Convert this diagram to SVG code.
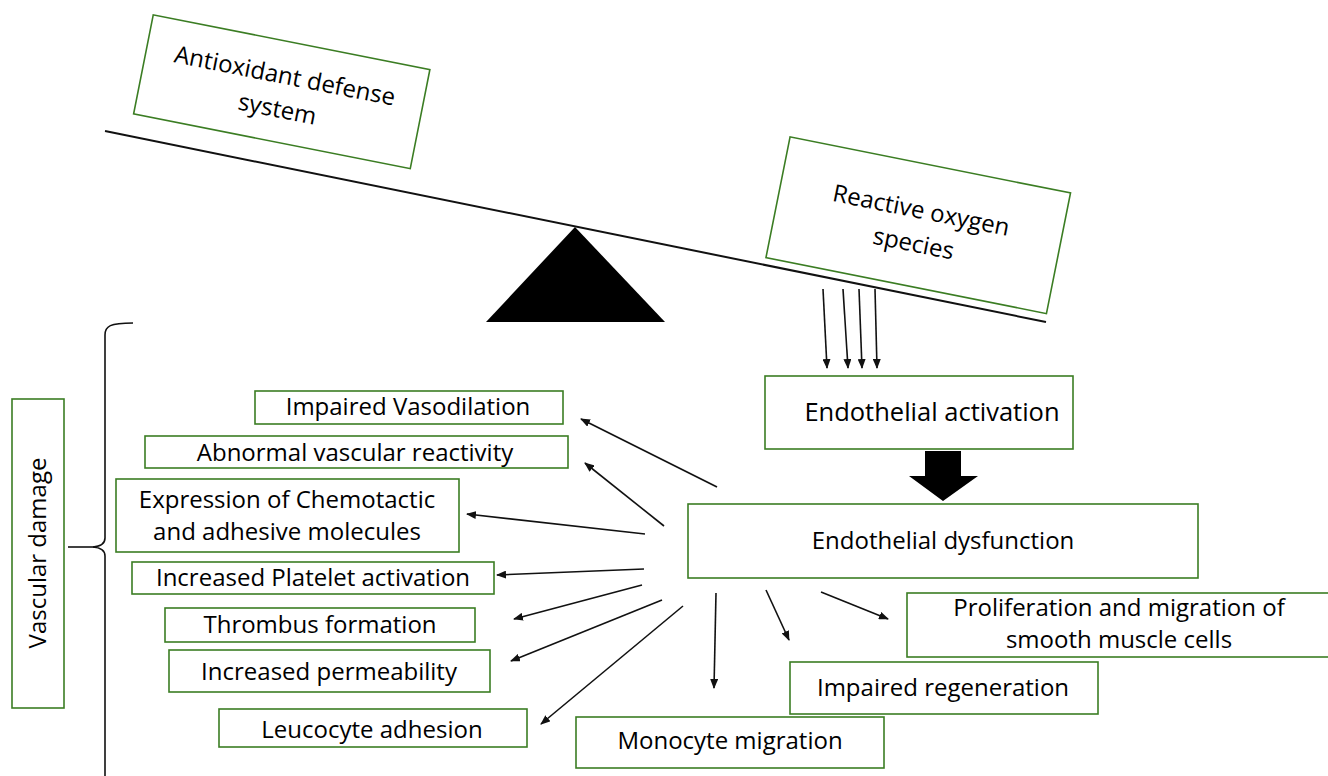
<svg xmlns="http://www.w3.org/2000/svg" width="1328" height="776" viewBox="0 0 1328 776">
<defs>
<style>
.box{fill:#fff;stroke:#3b7d23;stroke-width:1.6}
.t{font-family:"Open Sans","Liberation Sans",sans-serif;font-size:24px;fill:#000;text-anchor:middle}
.c{stroke:#111;stroke-width:1.6;fill:none}
.a{stroke:#111;stroke-width:1.6;fill:none;marker-end:url(#ah)}
</style>
<marker id="ah" markerUnits="userSpaceOnUse" markerWidth="10" markerHeight="8" refX="9" refY="4" orient="auto">
<path d="M0,0 L10,4 L0,8 Z" fill="#111"/>
</marker>
</defs>
<rect width="1328" height="776" fill="#fff"/>

<g id="balance">
<line x1="105" y1="131" x2="1046" y2="322" stroke="#111" stroke-width="2"/>
<polygon points="575,227 486,322 665,322" fill="#000"/>
</g>

<g id="antioxidant" transform="translate(281.75,91.75) rotate(11.2)">
<rect class="box" x="-141" y="-50.5" width="282" height="101"/>
<text class="t" x="0" y="-8">Antioxidant defense</text>
<text class="t" x="-1" y="26">system</text>
</g>

<g id="ros" transform="translate(918.25,225.25) rotate(11.3)">
<rect class="box" x="-143" y="-61.5" width="286" height="123"/>
<text class="t" x="0" y="-7">Reactive oxygen</text>
<text class="t" x="-1" y="27">species</text>
</g>

<g id="endothelial-activation">
<rect class="box" x="765" y="376" width="308" height="73"/>
<text class="t" x="932" y="421" style="font-size:25.5px">Endothelial activation</text>
</g>

<g id="endothelial-dysfunction">
<rect class="box" x="688" y="504" width="510" height="74"/>
<text class="t" x="943" y="549">Endothelial dysfunction</text>
</g>

<g id="impaired-vasodilation">
<rect class="box" x="255" y="391" width="308" height="33"/>
<text class="t" x="408" y="415">Impaired Vasodilation</text>
</g>

<g id="abnormal-reactivity">
<rect class="box" x="145" y="436" width="423" height="32"/>
<text class="t" x="355" y="461">Abnormal vascular reactivity</text>
</g>

<g id="expression">
<rect class="box" x="116" y="479" width="343" height="73"/>
<text class="t" x="287" y="508">Expression of Chemotactic</text>
<text class="t" x="287" y="540">and adhesive molecules</text>
</g>

<g id="platelet">
<rect class="box" x="132" y="562" width="362" height="32"/>
<text class="t" x="313" y="586">Increased Platelet activation</text>
</g>

<g id="thrombus">
<rect class="box" x="165" y="608" width="310" height="34"/>
<text class="t" x="320" y="633">Thrombus formation</text>
</g>

<g id="permeability">
<rect class="box" x="169" y="650" width="321" height="42"/>
<text class="t" x="329" y="680">Increased permeability</text>
</g>

<g id="leucocyte">
<rect class="box" x="219" y="709" width="308" height="38"/>
<text class="t" x="372" y="738">Leucocyte adhesion</text>
</g>

<g id="monocyte">
<rect class="box" x="576" y="717" width="308" height="51"/>
<text class="t" x="730" y="749">Monocyte migration</text>
</g>

<g id="regeneration">
<rect class="box" x="790" y="662" width="308" height="52"/>
<text class="t" x="943" y="696">Impaired regeneration</text>
</g>

<g id="proliferation">
<rect class="box" x="907" y="593" width="424" height="64"/>
<text class="t" x="1119" y="616">Proliferation and migration of</text>
<text class="t" x="1119" y="648">smooth muscle cells</text>
</g>

<g id="vascular-damage">
<rect class="box" x="12" y="399" width="52" height="309"/>
<text class="t" transform="translate(46,553) rotate(-90)" x="0" y="0">Vascular damage</text>
</g>

<g id="bracket">
<path class="c" d="M133,323 C110,323 105,326 105,335 L105,538 Q105,546 93,547 Q105,548 105,556 L105,776"/>
<line class="c" x1="68" y1="547" x2="95" y2="547"/>
</g>

<g id="connectors">
<line class="a" x1="823" y1="289" x2="827" y2="368"/>
<line class="a" x1="843" y1="289" x2="848" y2="368"/>
<line class="a" x1="859" y1="289" x2="862" y2="368"/>
<line class="a" x1="875" y1="289" x2="877" y2="368"/>
<polygon points="925,451 961,451 961,476 978,476 943,501 909,476 925,476" fill="#000"/>
<line class="a" x1="717" y1="487" x2="581" y2="419"/>
<line class="a" x1="664" y1="526" x2="585" y2="463"/>
<line class="a" x1="645" y1="534" x2="467" y2="514"/>
<line class="a" x1="644" y1="569" x2="497" y2="575"/>
<line class="a" x1="642" y1="585" x2="514" y2="619"/>
<line class="a" x1="662" y1="600" x2="511" y2="661"/>
<line class="a" x1="683" y1="606" x2="541" y2="724"/>
<line class="a" x1="716" y1="593" x2="714" y2="688"/>
<line class="a" x1="766" y1="590" x2="789" y2="640"/>
<line class="a" x1="821" y1="592" x2="888" y2="619"/>
</g>
</svg>
